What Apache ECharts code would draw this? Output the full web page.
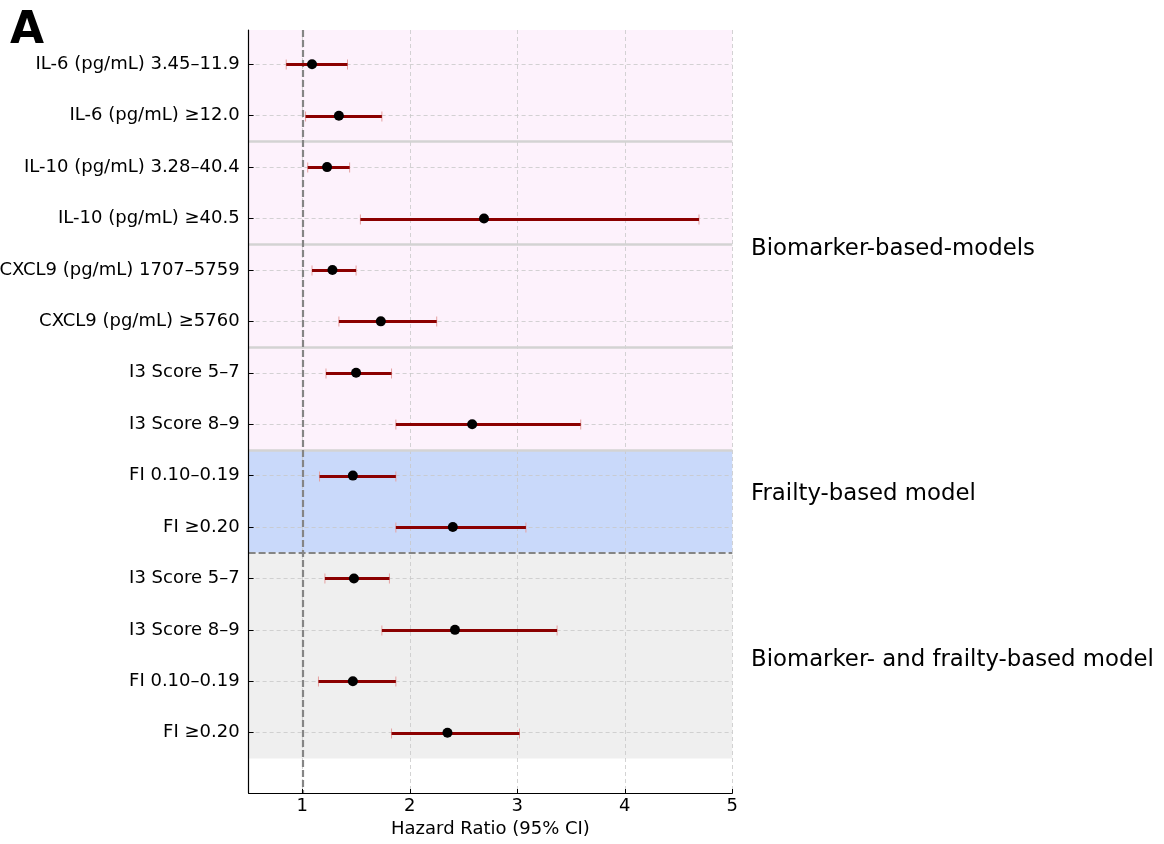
<!DOCTYPE html>
<html>
<head>
<meta charset="utf-8">
<script src="https://cdn.jsdelivr.net/npm/echarts@6/dist/echarts.min.js"></script>
<style>
  html, body { margin: 0; padding: 0; background: #fff; }
  #chart { width: 1164px; height: 844px; }
</style>
</head>
<body>
<div id="chart"></div>
<script>
// rows, top to bottom
var rowLabels = [
  "IL-6 (pg/mL) 3.45–11.9",
  "IL-6 (pg/mL) ≥12.0",
  "IL-10 (pg/mL) 3.28–40.4",
  "IL-10 (pg/mL) ≥40.5",
  "CXCL9 (pg/mL) 1707–5759",
  "CXCL9 (pg/mL) ≥5760",
  "I3 Score 5–7",
  "I3 Score 8–9",
  "FI 0.10–0.19",
  "FI ≥0.20",
  "I3 Score 5–7",
  "I3 Score 8–9",
  "FI 0.10–0.19",
  "FI ≥0.20"
];
var hr = [1.09, 1.34, 1.23, 2.69, 1.28, 1.73, 1.50, 2.58, 1.47, 2.40, 1.48, 2.42, 1.47, 2.35];
var ciLow = [0.85, 1.03, 1.05, 1.54, 1.09, 1.34, 1.22, 1.87, 1.16, 1.87, 1.21, 1.74, 1.15, 1.83];
var ciHigh = [1.42, 1.74, 1.44, 4.69, 1.50, 2.25, 1.83, 3.59, 1.87, 3.08, 1.81, 3.37, 1.87, 3.02];

var xTicks = [1, 2, 3, 4, 5];
// model groups: first row, last row, label
var groups = [
  { name: "Biomarker-based-models", from: 0, to: 7, color: "#fdf2fc" },
  { name: "Frailty-based model", from: 8, to: 9, color: "#c9d9fa" },
  { name: "Biomarker- and frailty-based model", from: 10, to: 13, color: "#efefef" }
];
// boundaries between biomarker pairs inside first group
var subBreaks = [1.5, 3.5, 5.5, 7.5];
var groupBreak = 9.5;

var yMin = -0.667, yMax = 14.173;
var rowIdx = rowLabels.map(function (d, i) { return i; });

var chart = echarts.init(document.getElementById("chart"));
var font = "'DejaVu Sans'";

var bandAreas = groups.map(function (g, i) {
  return [
    { yAxis: i === 0 ? yMin : g.from - 0.5, itemStyle: { color: g.color } },
    { yAxis: g.to + 0.5 }
  ];
});

var gridLinesV = xTicks.map(function (v) { return { xAxis: v }; });
var gridLinesH = rowIdx.map(function (v) { return { yAxis: v }; });

var option = {
  animation: false,
  grid: {
    left: 248.6, top: 30, width: 483.7, height: 763,
    containLabel: false,
    outerBoundsMode: "none"
  },
  xAxis: {
    type: "value",
    min: 0.5,
    max: 5,
    z: 10,
    name: "Hazard Ratio (95% CI)",
    nameLocation: "middle",
    nameGap: 27,
    nameTextStyle: { fontFamily: font, fontSize: 18, color: "#000" },
    axisLine: { show: true, onZero: false, lineStyle: { color: "#000", width: 1.2 } },
    axisTick: { show: true, inside: true, length: 4, customValues: xTicks, lineStyle: { color: "#000" } },
    axisLabel: { customValues: xTicks, margin: 4, fontFamily: font, fontSize: 18, color: "#000" },
    splitLine: { show: false }
  },
  yAxis: {
    type: "value",
    inverse: true,
    min: yMin,
    max: yMax,
    z: 10,
    axisLine: { show: true, onZero: false, lineStyle: { color: "#000", width: 1.2 } },
    axisTick: { show: true, inside: true, length: 5, customValues: rowIdx, lineStyle: { color: "#000" } },
    axisLabel: {
      customValues: rowIdx,
      margin: 9,
      fontFamily: font,
      fontSize: 18,
      color: "#000",
      formatter: function (v) { return rowLabels[Math.round(v)]; }
    },
    splitLine: { show: false }
  },
  graphic: [
    {
      type: "text", left: 10, top: 10,
      style: { text: "A", font: "bold 44px " + font, fill: "#000" }
    },
    {
      type: "text", x: 751, y: 249, style: {
        text: groups[0].name, font: "22.8px " + font, fill: "#000", verticalAlign: "middle" }
    },
    {
      type: "text", x: 751, y: 494, style: {
        text: groups[1].name, font: "22.8px " + font, fill: "#000", verticalAlign: "middle" }
    },
    {
      type: "text", x: 751, y: 660, style: {
        text: groups[2].name, font: "22.8px " + font, fill: "#000", verticalAlign: "middle" }
    }
  ],
  series: [
    {
      // shaded model blocks
      type: "line",
      data: [],
      z: 0,
      silent: true,
      markArea: { silent: true, z: 0, data: bandAreas }
    },
    {
      // dashed grid
      type: "line",
      data: [],
      z: 1,
      silent: true,
      markLine: {
        silent: true,
        z: 1,
        symbol: "none",
        label: { show: false },
        lineStyle: { color: "#c8c8c8", type: [4, 3], width: 0.8 },
        data: gridLinesV.concat(gridLinesH)
      }
    },
    {
      // separators
      type: "line",
      data: [],
      z: 2,
      silent: true,
      markLine: {
        silent: true,
        z: 2,
        symbol: "none",
        label: { show: false },
        data: subBreaks.map(function (v) {
          return { yAxis: v, lineStyle: { color: "#d3d3d3", type: "solid", width: 2.5 } };
        }).concat([
          { yAxis: groupBreak, lineStyle: { color: "#858585", type: [7, 3], width: 2.2 } },
          { xAxis: 1, lineStyle: { color: "#858585", type: [7, 3], width: 2.2 } }
        ])
      }
    },
    {
      // confidence intervals
      type: "custom",
      z: 3,
      silent: true,
      data: rowIdx.map(function (i) { return [ciLow[i], ciHigh[i], i]; }),
      encode: { x: [0, 1], y: 2 },
      renderItem: function (params, api) {
        var a = api.coord([api.value(0), api.value(2)]);
        var b = api.coord([api.value(1), api.value(2)]);
        var y = Math.round(a[1]) + 0.5;
        var capStyle = { stroke: "#e4a0a0", lineWidth: 1 };
        return {
          type: "group",
          children: [
            { type: "line", shape: { x1: a[0], y1: y - 5, x2: a[0], y2: y + 5 }, style: capStyle },
            { type: "line", shape: { x1: b[0], y1: y - 5, x2: b[0], y2: y + 5 }, style: capStyle },
            { type: "line", shape: { x1: a[0], y1: y, x2: b[0], y2: y }, style: { stroke: "#8b0000", lineWidth: 3 } }
          ]
        };
      }
    },
    {
      // hazard ratio point estimates
      type: "scatter",
      z: 4,
      silent: true,
      symbolSize: 10,
      itemStyle: { color: "#000", opacity: 1 },
      data: rowIdx.map(function (i) { return [hr[i], i]; })
    }
  ]
};
chart.setOption(option);
</script>
</body>
</html>
